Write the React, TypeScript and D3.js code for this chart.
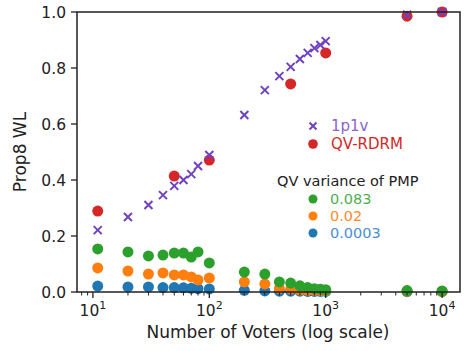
import React from 'react';
import * as d3 from 'd3';

// Number of voters (x) and series values
const voters = [11, 20, 30, 40, 50, 60, 70, 80, 100, 200, 300, 400, 500, 600, 700, 800, 900, 1000, 5000, 10000];

const onePOneV = [0.221, 0.268, 0.311, 0.346, 0.379, 0.4, 0.421, 0.45, 0.489, 0.632, 0.721, 0.771, 0.804, 0.832, 0.854, 0.871, 0.882, 0.896, 0.99, 1.0];

const rdrmVoters = [11, 50, 100, 500, 1000, 5000, 10000];
const rdrmValues = [0.289, 0.414, 0.471, 0.743, 0.854, 0.985, 1.0];

const pmp083 = [0.154, 0.143, 0.129, 0.132, 0.139, 0.139, 0.125, 0.143, 0.104, 0.071, 0.064, 0.036, 0.032, 0.022, 0.016, 0.012, 0.01, 0.008, 0.005, 0.004];
const pmp02 = [0.086, 0.075, 0.064, 0.068, 0.061, 0.061, 0.054, 0.043, 0.05, 0.036, 0.029, 0.012, 0.01, 0.007, 0.006, 0.006, 0.005, 0.005, 0.003, 0.002];
const pmp0003 = [0.021, 0.018, 0.018, 0.016, 0.016, 0.015, 0.013, 0.012, 0.011, 0.006, 0.004, 0.003, 0.003, 0.003, 0.002, 0.002, 0.002, 0.002, 0.001, 0.001];

const yTicks = [0, 0.2, 0.4, 0.6, 0.8, 1.0];
const xMajor = [10, 100, 1000, 10000];
const qvLabels = ['0.083', '0.02', '0.0003'];

const PURPLE = '#6f42c1';
const RED = '#d62728';
const GREEN = '#2ca02c';
const ORANGE = '#ff7f0e';
const BLUE = '#1f77b4';

const W = 464;
const H = 351;
const FONT = 'DejaVu Sans, sans-serif';

const App: React.FC = () => {
  const x = d3.scaleLog().domain([7.3, 14250]).range([77, 460]);
  const y = d3.scaleLinear().domain([0, 1]).range([292, 12]);

  const minor: number[] = [];
  for (let p = 0; p <= 4; p++) {
    for (let m = 2; m <= 9; m++) {
      const v = m * Math.pow(10, p);
      if (v > 7.3 && v < 14250) minor.push(v);
    }
  }

  const qvSeries = [
    { vals: pmp083, color: GREEN, text: '#4caf50' },
    { vals: pmp02, color: ORANGE, text: '#ff8c2e' },
    { vals: pmp0003, color: BLUE, text: '#4a8fd6' },
  ];

  const cross = (cx: number, cy: number, s = 4) =>
    `M${cx - s},${cy - s}L${cx + s},${cy + s}M${cx - s},${cy + s}L${cx + s},${cy - s}`;

  return (
    <svg width={W} height={H} style={{ position: 'absolute', left: 0, top: 0 }} fontFamily={FONT}>
      <rect width={W} height={H} fill="white" />

      {/* QV variance series, smallest drawn first */}
      {qvSeries.slice().reverse().map((s, si) => (
        <g key={si}>
          {voters.map((v, i) => (
            <circle key={i} cx={x(v)} cy={y(s.vals[i])} r={5.5} fill={s.color} />
          ))}
        </g>
      ))}

      {/* QV-RDRM */}
      {rdrmVoters.map((v, i) => (
        <circle key={i} cx={x(v)} cy={y(rdrmValues[i])} r={5.5} fill={RED} />
      ))}

      {/* 1p1v */}
      {voters.map((v, i) => (
        <path key={i} d={cross(x(v), y(onePOneV[i]))} stroke={PURPLE} strokeWidth={2} fill="none" />
      ))}

      {/* spines */}
      <rect x={77} y={12} width={383} height={280} fill="none" stroke="#222" strokeWidth={1.5} />

      {/* y ticks */}
      {yTicks.map((t) => (
        <g key={t}>
          <line x1={71} x2={77} y1={y(t)} y2={y(t)} stroke="#222" strokeWidth={1.3} />
          <text x={66} y={y(t)} dy="0.36em" textAnchor="end" fontSize={15.5} fill="#222">
            {t.toFixed(1)}
          </text>
        </g>
      ))}

      {/* x ticks */}
      {minor.map((t) => (
        <line key={t} x1={x(t)} x2={x(t)} y1={292} y2={295.5} stroke="#222" strokeWidth={1} />
      ))}
      {xMajor.map((t, i) => (
        <g key={t}>
          <line x1={x(t)} x2={x(t)} y1={292} y2={298} stroke="#222" strokeWidth={1.3} />
          <text x={x(t)} y={316} textAnchor="middle" fontSize={15.5} fill="#222">
            10
            <tspan dy={-7} fontSize={11}>{i + 1}</tspan>
          </text>
        </g>
      ))}

      {/* axis labels */}
      <text x={268} y={338} textAnchor="middle" fontSize={17} fill="#222">
        Number of Voters (log scale)
      </text>
      <text transform={`translate(26,152) rotate(-90)`} textAnchor="middle" fontSize={17} fill="#222">
        Prop8 WL
      </text>

      {/* legend */}
      <path d={cross(313, 126, 3.5)} stroke={PURPLE} strokeWidth={2} />
      <text x={331} y={126} dy="0.36em" fontSize={15} fill="#8a64cc">1p1v</text>
      <circle cx={313} cy={144} r={4.8} fill={RED} />
      <text x={331} y={144} dy="0.36em" fontSize={15} fill={RED}>QV-RDRM</text>

      <text x={277} y={181} dy="0.36em" fontSize={14.5} fill="#222">QV variance of PMP</text>
      {qvSeries.map((s, i) => (
        <g key={i}>
          <circle cx={313} cy={199 + i * 17} r={4.5} fill={s.color} />
          <text x={330} y={199 + i * 17} dy="0.36em" fontSize={14.5} fill={s.text}>
            {qvLabels[i]}
          </text>
        </g>
      ))}
    </svg>
  );
};

export default App;
